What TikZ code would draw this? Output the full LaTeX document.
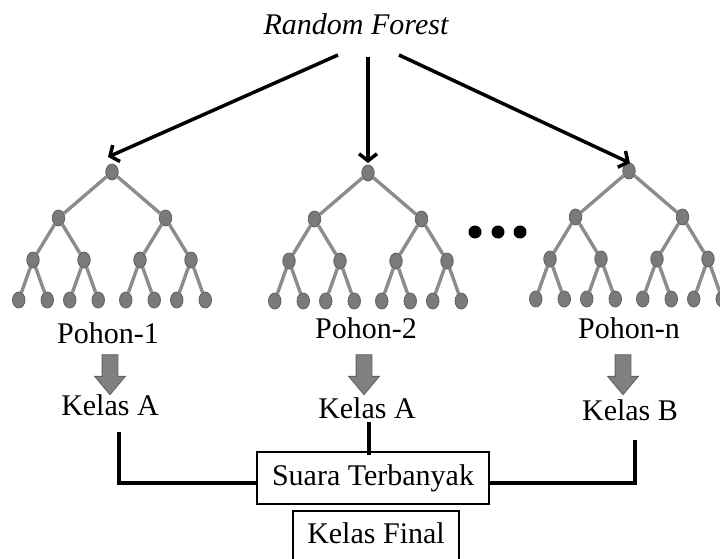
\documentclass[tikz,border=0pt]{standalone}
\usepackage{fontspec}
\setmainfont{Liberation Serif}
\usetikzlibrary{arrows.meta, shapes.geometric, shapes.arrows}

\begin{document}
\begin{tikzpicture}[
  x=1pt, y=-1pt,
  font=\fontsize{30}{36}\selectfont,
  leaf/.style={ellipse, draw=black!62, fill=black!52, line width=0.8pt,
               minimum width=12.5pt, minimum height=16pt, inner sep=0pt},
  every child node/.style={leaf},
  edge from parent/.style={draw=black!45, line width=3.4pt},
  level 1/.style={sibling distance=107pt, level distance=46pt},
  level 2/.style={sibling distance=51pt, level distance=42pt},
  level 3/.style={sibling distance=28.5pt, level distance=40pt},
  lbl/.style={anchor=base, inner sep=0pt},
  blockarr/.style={single arrow, shape border rotate=270, draw=black!62, fill=black!50,
                   line width=0.8pt, minimum width=30pt, minimum height=40pt,
                   single arrow head extend=7.5pt, single arrow tip angle=80, inner sep=7.5pt},
  box/.style={draw, line width=2.6pt, text height=20pt, text depth=6pt, inner sep=0pt},
  arr/.style={-{Straight Barb[length=7pt, width=18pt]}, line width=3.5pt},
  link/.style={line width=3.5pt}
]
  \useasboundingbox (0,0) rectangle (720,559);

  % Title
  \node[lbl] (rf) at (356,35) {\itshape Random Forest};

  % Trees
  \foreach \t/\x/\y in {t1/112/172, t2/368/173, t3/629/171}
    \node[leaf] (\t) at (\x,\y) {}
      child {node {} child {node {} child {node {}} child {node {}}}
                     child {node {} child {node {}} child {node {}}}}
      child {node {} child {node {} child {node {}} child {node {}}}
                     child {node {} child {node {}} child {node {}}}};

  % Dots
  \foreach \i/\x in {1/475, 2/498, 3/520}
    \node[circle, fill=black, minimum size=13pt, inner sep=0pt] (dot\i) at (\x,232) {};

  % Tree labels
  \node[lbl] (p1) at (108,343) {Pohon-1};
  \node[lbl] (p2) at (366,338) {Pohon-2};
  \node[lbl] (p3) at (629,338) {Pohon-n};

  \node[blockarr] (b1) at (110,370) {};
  \node[blockarr] (b2) at (364,370) {};
  \node[blockarr] (b3) at (623,370) {};

  \node[lbl] (k1) at (110,415) {Kelas A};
  \node[lbl] (k2) at (367,418) {Kelas A};
  \node[lbl] (k3) at (630,420) {Kelas B};

  % Voting
  \node[box, minimum width=232pt, minimum height=52pt] (vote) at (373,478) {Suara Terbanyak};
  \node[box, minimum width=166pt, minimum height=50pt] (final) at (376,536) {Kelas Final};

  % Arrows
  \draw[arr] ([shift={(-18,20)}]rf.base) -- ([shift={(-4,-15)}]t1.center);
  \draw[arr] ([shift={(12,22)}]rf.base) -- ([shift={(0,-10)}]t2.center);
  \draw[arr] ([shift={(43,20)}]rf.base) -- ([shift={(1,-8)}]t3.center);

  \draw[link] ([shift={(9,17)}]k1.base) |- ([yshift=-5pt]vote.west);
  \draw[link] ([shift={(2,4)}]k2.base) -- ([shift={(2,4)}]k2.base |- vote.north);
  \draw[link] ([shift={(5,20)}]k3.base) |- ([yshift=-5pt]vote.east);
\end{tikzpicture}
\end{document}
